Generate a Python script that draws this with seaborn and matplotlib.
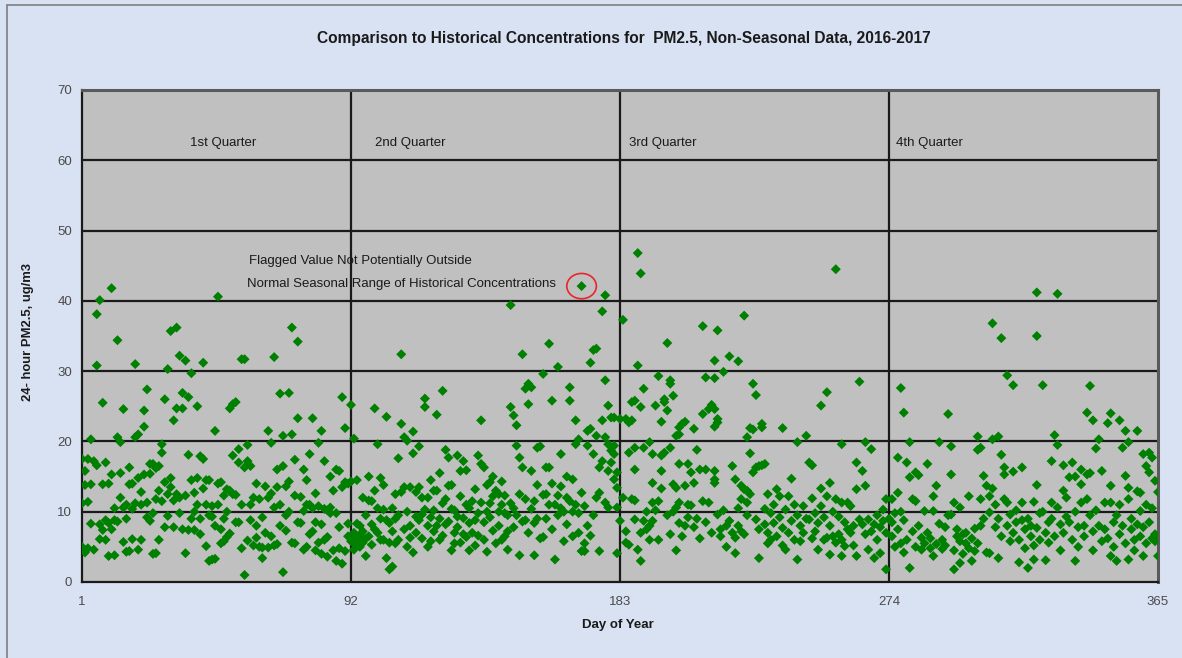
import matplotlib
matplotlib.use("Agg")
import matplotlib.pyplot as plt
from matplotlib.patches import Ellipse
from matplotlib.lines import Line2D
import seaborn as sns
import pandas as pd

# (day of year, 24-hour PM2.5), one list per quarter
q1 = [(1,17.5),(1,5.0),(1,11.2),(2,15.8),(2,4.2),(2,13.8),(3,17.5),(3,11.4),(3,4.8),(4,20.3),(4,13.9),(4,8.3),
      (5,17.2),(5,4.6),(6,38.1),(6,30.8),(6,16.6),(7,40.1),(7,8.2),(7,6.1),(8,25.5),(8,13.9),(8,7.4),(9,17.0),
      (9,6.0),(9,8.8),(10,14.0),(10,8.4),(10,3.7),(11,41.8),(11,7.5),(11,15.3),(12,8.8),(12,3.8),(12,10.5),
      (13,34.4),(13,20.6),(13,8.6),(14,19.9),(14,15.5),(14,12.0),(15,24.6),(15,5.7),(15,10.6),(16,11.0),(16,9.0),
      (16,4.3),(17,16.3),(17,4.4),(17,13.9),(18,14.0),(18,10.4),(18,6.1),(19,31.0),(19,20.6),(19,11.2),(20,21.0),
      (20,4.6),(20,14.8),(21,12.8),(21,6.0),(21,11.0),(22,22.1),(22,24.4),(22,15.3),(23,27.4),(23,11.3),(23,9.2),
      (24,15.4),(24,8.7),(24,16.8),(25,16.8),(25,9.8),(25,4.0),(26,11.8),(26,4.1),(26,16.2),(27,16.5),(27,6.0),
      (27,13.0),(28,19.6),(28,18.4),(28,11.5),(29,26.0),(29,14.2),(29,7.8),(30,30.3),(30,12.5),(30,9.4),(31,35.7),
      (31,14.8),(31,13.5),(32,23.0),(32,7.8),(32,11.6),(33,36.2),(33,24.7),(33,12.5),(34,32.2),(34,12.0),(34,9.8),
      (35,24.7),(35,26.9),(35,7.5),(36,31.5),(36,4.1),(36,12.3),(37,26.3),(37,18.1),(37,7.4),(38,29.7),(38,9.0),
      (38,14.5),(39,12.7),(39,7.4),(39,10.0),(40,25.0),(40,14.8),(40,11.0),(41,17.9),(41,6.8),(41,9.0),(42,31.2),
      (42,17.5),(42,13.3),(43,11.0),(43,5.1),(43,14.5),(44,14.5),(44,3.0),(44,9.5),(45,9.3),(45,3.2),(45,10.8),
      (46,21.5),(46,3.3),(46,8.0),(47,40.6),(47,11.0),(47,14.0),(48,7.5),(48,14.2),(48,5.5),(49,12.3),(49,5.8),
      (49,9.0),(50,6.4),(50,10.0),(50,13.2),(51,24.7),(51,13.0),(51,6.9),(52,25.3),(52,18.0),(52,12.5),(53,25.6),
      (53,12.4),(53,8.5),(54,18.9),(54,8.5),(54,17.0),(55,31.7),(55,4.8),(55,11.0),(56,31.7),(56,1.0),(56,16.3),
      (57,19.5),(57,17.2),(57,5.9),(58,16.5),(58,8.8),(58,11.0),(59,12.0),(59,5.2),(60,14.0),(60,6.3),(60,8.0),
      (61,11.8),(61,5.0),(62,9.2),(62,3.4),(62,4.9),(63,13.6),(63,7.0),(64,21.5),(64,4.9),(64,12.0),(65,19.8),
      (65,12.6),(65,6.5),(66,32.0),(66,10.6),(66,5.2),(67,16.0),(67,5.4),(67,13.5),(68,26.8),(68,11.0),(68,8.0),
      (69,1.4),(69,20.8),(69,16.5),(70,13.6),(70,7.3),(70,9.5),(71,26.9),(71,14.3),(71,10.0),(72,36.2),(72,21.0),
      (72,5.6),(73,17.4),(73,5.5),(73,12.3),(74,34.2),(74,23.3),(74,8.5),(75,12.1),(75,8.4),(76,16.0),(76,10.1),
      (76,4.6),(77,14.5),(77,5.0),(77,11.0),(78,18.2),(78,11.0),(78,6.8),(79,23.3),(79,7.2),(79,10.5),(80,12.6),
      (80,8.5),(80,4.5),(81,19.8),(81,5.6),(81,10.8),(82,21.5),(82,4.0),(82,8.2),(83,17.2),(83,10.4),(83,6.0),
      (84,10.2),(84,6.4),(84,3.6),(85,15.0),(85,9.8),(85,10.6),(86,13.0),(86,4.5),(87,16.0),(87,3.0),(87,9.8),
      (88,15.8),(88,7.8),(88,4.8),(89,26.3),(89,2.6),(89,13.5),(90,14.2),(90,4.4),(90,21.9),(91,14.0),(91,8.3),
      (91,6.5)]

q2 = [(92,25.2),(92,6.5),(92,14.3),(92,5.8),(93,20.4),(93,5.5),(93,7.0),(93,4.6),(94,6.0),(94,14.5),(94,8.3),
      (95,8.0),(95,5.0),(95,6.6),(96,12.0),(96,7.2),(96,5.6),(97,3.7),(97,9.5),(97,6.2),(98,6.5),(98,15.0),
      (98,11.6),(99,8.2),(99,11.5),(99,5.3),(100,24.7),(100,13.0),(100,7.5),(101,19.6),(101,7.0),(101,10.5),
      (102,14.8),(102,9.0),(102,6.0),(103,6.0),(103,10.3),(103,13.8),(104,23.5),(104,3.4),(104,8.8),(105,1.8),
      (105,8.4),(105,5.6),(106,2.2),(106,10.5),(106,7.2),(107,5.5),(107,12.5),(107,9.0),(108,17.6),(108,9.5),
      (108,6.0),(109,32.4),(109,22.5),(109,12.8),(110,20.6),(110,7.5),(110,13.5),(111,20.1),(111,5.0),(111,10.0),
      (112,13.5),(112,8.0),(112,6.3),(113,21.4),(113,18.3),(113,4.2),(114,12.8),(114,9.3),(114,7.0),(115,19.3),
      (115,13.5),(115,8.8),(116,9.6),(116,6.2),(116,12.0),(117,26.1),(117,24.9),(117,10.3),(118,12.0),(118,8.0),
      (118,5.0),(119,14.5),(119,5.8),(119,9.2),(120,10.2),(120,7.2),(120,13.0),(121,23.8),(121,13.0),(121,8.0),
      (122,15.5),(122,9.0),(122,6.0),(123,27.2),(123,6.6),(123,11.2),(124,18.8),(124,11.8),(124,8.2),(125,17.7),
      (125,8.6),(125,13.7),(126,13.8),(126,4.5),(126,10.4),(127,5.5),(127,10.2),(127,7.0),(128,18.0),(128,7.8),
      (128,9.3),(129,15.8),(129,12.2),(129,5.6),(130,17.2),(130,9.1),(130,6.8),(131,15.9),(131,6.4),(131,11.0),
      (132,8.4),(132,4.5),(132,10.5),(133,11.5),(133,7.0),(134,13.2),(134,5.2),(134,8.8),(135,18.0),(135,9.8),
      (135,6.6),(136,23.0),(136,16.8),(136,11.3),(137,16.3),(137,6.0),(137,8.5),(138,4.3),(138,13.8),(138,10.0),
      (139,9.2),(139,11.2),(139,14.2),(140,15.0),(140,7.3),(140,12.2),(141,13.0),(141,5.5),(142,10.0),(142,8.0),
      (142,12.5),(143,14.3),(143,11.0),(143,6.0),(144,12.3),(144,6.5),(144,9.8),(145,9.5),(145,4.6),(145,7.2),
      (146,39.4),(146,24.9),(146,11.2),(147,23.7),(147,10.5),(147,7.8),(148,22.3),(148,19.4),(148,9.5),(149,17.7),
      (149,12.5),(149,3.8),(150,32.4),(150,16.3),(150,8.6),(151,27.5),(151,8.8),(151,11.8),(152,28.2),(152,25.3),
      (152,7.0),(153,27.7),(153,15.8),(153,10.4),(154,3.8),(154,11.5),(154,8.4),(155,9.0),(155,13.8),(155,19.1),
      (156,19.3),(156,6.2),(157,29.6),(157,6.4),(157,12.4),(158,16.3),(158,12.5),(158,9.0),(159,33.9),(159,16.3),
      (159,11.0),(160,25.8),(160,7.5),(160,14.0),(161,3.2),(161,11.0),(162,30.6),(162,9.5),(162,12.3),(163,18.2),
      (163,13.6),(163,10.5),(164,10.0),(164,5.8),(165,12.0),(165,8.2),(165,15.0),(166,27.7),(166,25.8),(166,11.5),
      (167,14.6),(167,10.0),(167,6.5),(168,23.0),(168,19.6),(168,11.0),(169,20.3),(169,7.0),(169,9.8),(170,42.1),
      (170,12.7),(170,4.4),(171,5.5),(171,4.4),(171,10.8),(172,21.5),(172,19.4),(172,8.0),(173,31.2),(173,21.8),
      (173,6.6),(174,33.0),(174,18.2),(174,9.5),(175,33.2),(175,20.8),(175,12.0),(176,16.3),(176,12.7),(176,4.4),
      (177,38.5),(177,23.0),(177,17.2),(178,40.8),(178,28.7),(178,20.6),(178,11.3),(179,25.1),(179,19.6),(179,15.8),
      (179,10.6),(180,23.4),(180,18.7),(180,17.0),(181,23.4),(181,19.4),(181,18.2),(181,14.6),(182,15.6),(182,13.4),
      (182,10.6),(182,4.1)]

q3 = [(183,8.7),(183,23.2),(184,37.3),(184,12.0),(185,7.2),(185,5.6),(185,23.2),(186,5.3),(186,18.4),(186,22.7),
      (187,23.0),(187,11.8),(187,25.6),(188,25.8),(188,8.9),(188,19.1),(188,16.0),(188,11.6),(189,46.8),(189,30.8),
      (189,4.6),(190,43.9),(190,24.9),(190,7.0),(190,3.0),(191,27.5),(191,19.1),(191,8.7),(192,10.0),(192,7.5),
      (193,19.9),(193,8.0),(193,6.0),(194,18.2),(194,14.1),(194,11.3),(194,8.7),(195,25.1),(195,10.2),(196,29.3),
      (196,11.5),(196,6.0),(197,22.8),(197,18.0),(197,15.8),(197,13.3),(198,25.6),(198,26.0),(198,18.4),(199,34.0),
      (199,24.4),(199,9.5),(200,28.7),(200,28.2),(200,19.1),(200,6.8),(201,26.5),(201,13.9),(201,10.0),(202,20.8),
      (202,13.4),(202,10.6),(202,4.5),(203,22.0),(203,21.0),(203,16.8),(203,11.3),(203,8.4),(204,22.5),(204,6.5),
      (205,22.8),(205,13.7),(205,8.0),(206,16.8),(206,11.0),(206,9.2),(207,15.6),(207,10.9),(208,21.8),(208,14.1),
      (208,7.8),(209,18.8),(209,9.0),(210,16.0),(210,6.2),(211,36.4),(211,23.9),(211,11.5),(212,29.1),(212,16.0),
      (212,8.5),(213,24.6),(213,11.3),(214,25.2),(214,7.0),(215,31.5),(215,29.0),(215,24.6),(215,22.1),(215,15.8),
      (215,14.1),(215,14.6),(216,35.8),(216,22.7),(216,23.2),(216,9.6),(217,7.5),(217,6.5),(218,29.9),(218,10.2),
      (219,8.0),(219,5.0),(220,32.1),(220,8.7),(221,16.5),(221,7.0),(222,14.6),(222,6.3),(222,4.1),(223,31.4),
      (223,8.0),(223,10.5),(224,13.7),(224,11.8),(224,7.2),(225,37.9),(225,13.2),(225,6.8),(226,13.0),(226,11.3),
      (226,20.6),(226,9.5),(227,21.9),(227,18.3),(227,12.5),(228,28.2),(228,21.7),(228,15.6),(229,26.6),(229,16.3),
      (229,8.9),(230,16.5),(230,7.5),(230,3.4),(231,22.5),(231,22.0),(231,16.6),(232,16.8),(232,8.2),(232,10.4),
      (233,12.5),(233,7.0),(233,5.5),(234,6.0),(234,9.8),(235,8.4),(235,11.0),(236,13.2),(236,6.5),(237,12.2),
      (237,9.2),(238,21.9),(238,7.7),(238,5.2),(239,4.6),(239,10.3),(240,12.2),(240,7.0),(241,14.7),(241,8.7),
      (242,11.0),(242,6.0),(243,19.9),(243,3.2),(243,9.5),(244,8.0),(244,5.8),(245,7.0),(245,10.8),(246,20.8),
      (246,9.0),(247,17.0),(247,8.9),(248,16.6),(248,11.9),(248,6.2),(249,7.2),(249,9.8),(250,4.6),(250,8.4),
      (251,25.1),(251,13.3),(251,10.8),(252,6.0),(252,9.2),(253,27.0),(253,12.2),(253,6.3),(254,14.1),(254,3.9),
      (254,8.0),(255,6.5),(255,10.0),(256,44.5),(256,11.8),(256,5.6),(257,6.8),(257,9.3),(258,19.6),(258,11.3),
      (258,3.7),(258,6.0),(259,5.1),(259,8.5),(260,11.3),(260,7.5),(261,10.8),(261,7.0),(262,8.0),(262,5.2),
      (263,17.0),(263,13.2),(263,3.7),(264,28.5),(264,8.9),(265,15.8),(265,8.2),(266,19.9),(266,13.7),(266,6.8),
      (267,8.9),(267,4.6),(268,18.9),(268,7.2),(269,8.2),(269,3.4),(270,6.0),(270,9.5),(271,4.1),(271,7.8),
      (272,8.7),(272,10.3),(273,7.0),(273,1.8),(273,11.8),(274,9.0)]

q4 = [(275,11.8),(275,6.5),(275,8.5),(276,5.0),(276,9.8),(277,17.7),(277,12.7),(277,7.5),(278,27.6),(278,10.0),
      (278,5.5),(279,24.1),(279,4.2),(279,8.8),(280,17.0),(280,6.0),(281,19.9),(281,14.9),(281,2.0),(282,11.8),
      (282,7.2),(283,15.6),(283,11.5),(283,5.0),(284,15.2),(284,8.0),(285,6.3),(285,4.6),(286,10.1),(286,5.5),
      (287,16.8),(287,7.0),(288,4.8),(288,6.2),(289,12.2),(289,10.1),(289,3.7),(290,13.7),(290,5.4),(291,19.9),
      (291,8.3),(292,6.0),(292,4.7),(293,7.8),(293,5.2),(294,23.9),(294,9.5),(295,15.3),(295,19.3),(295,9.6),
      (296,11.3),(296,1.8),(296,4.5),(297,6.5),(297,7.5),(298,10.6),(298,2.7),(298,5.8),(299,6.8),(299,4.0),
      (300,7.0),(300,5.5),(301,12.2),(301,4.8),(302,3.0),(302,6.2),(303,7.6),(303,4.4),(304,20.7),(304,18.8),
      (304,5.5),(305,19.1),(305,11.8),(305,8.0),(306,15.1),(306,9.0),(307,13.7),(307,4.2),(308,12.2),(308,9.9),
      (308,4.1),(309,36.8),(309,20.3),(309,13.3),(310,11.0),(310,7.8),(311,20.7),(311,3.4),(311,9.0),(312,34.7),
      (312,18.1),(312,6.5),(313,16.3),(313,15.3),(313,11.8),(314,29.4),(314,11.3),(314,8.0),(315,9.6),(315,5.8),
      (316,28.0),(316,15.7),(316,7.0),(317,8.5),(317,10.2),(318,2.8),(318,6.0),(319,16.3),(319,11.3),(319,8.8),
      (320,7.5),(320,4.8),(321,2.0),(321,9.0),(322,6.5),(322,8.0),(323,11.4),(323,3.2),(323,5.2),(324,41.2),
      (324,35.0),(324,13.8),(324,7.7),(325,9.8),(325,6.0),(326,28.0),(326,10.0),(327,3.1),(327,7.0),(328,8.5),
      (328,5.6),(329,17.2),(329,11.3),(329,9.0),(330,20.9),(330,6.5),(331,41.0),(331,19.5),(331,10.6),(332,8.2),
      (332,4.5),(333,16.6),(333,13.0),(333,7.0),(334,12.0),(334,9.3),(335,14.9),(335,8.5),(336,17.0),(336,6.0),
      (337,15.0),(337,3.0),(337,10.0),(338,7.8),(338,5.0),(339,16.0),(339,13.9),(339,11.3),(340,8.0),(340,6.5),
      (341,24.1),(341,15.3),(341,11.8),(342,27.9),(342,15.5),(342,9.5),(343,23.0),(343,4.5),(343,7.2),(344,19.0),
      (344,10.2),(345,20.3),(345,8.0),(346,15.8),(346,5.8),(347,11.3),(347,7.5),(348,22.6),(348,6.2),(349,24.0),
      (349,13.7),(349,11.3),(349,3.7),(350,8.5),(350,5.0),(351,3.0),(351,9.5),(352,23.0),(352,11.0),(352,6.8),
      (353,19.1),(353,8.0),(354,21.5),(354,15.1),(354,5.5),(355,19.9),(355,13.4),(355,11.8),(355,3.2),(356,7.5),
      (356,9.0),(357,6.0),(357,4.5),(358,21.5),(358,12.9),(358,8.2),(359,12.7),(359,10.1),(359,6.5),(360,18.2),
      (360,3.7),(360,7.8),(361,16.5),(361,11.0),(361,5.5),(362,18.4),(362,15.6),(362,8.5),(363,17.7),(363,6.2),
      (363,10.5),(364,14.4),(364,6.8),(364,5.8),(365,12.8),(365,3.7),(365,6.0)]

quarter_starts = [1, 92, 183, 274, 365]
quarter_names = ["1st Quarter", "2nd Quarter", "3rd Quarter", "4th Quarter"]
quarter_label_days = [37.5, 100, 186, 276.5]
flagged = (170, 42.1)

df = pd.DataFrame(q1 + q2 + q3 + q4, columns=["Day", "PM25"])

sns.set_style("white")
plt.rcParams["font.family"] = ["Liberation Sans", "DejaVu Sans"]

fig = plt.figure(figsize=(11.82, 6.58), dpi=100, facecolor="#D9E2F3")
ax = fig.add_axes([82 / 1182, 1 - 582 / 658, (1158 - 82) / 1182, (582 - 90) / 658])
ax.set_facecolor("#C0C0C0")

# grid lines first so the points sit on top
for v in range(10, 70, 10):
    ax.axhline(v, color="#1a1a1a", lw=1.6, zorder=1)
for d in quarter_starts[1:-1]:
    ax.axvline(d, color="#1a1a1a", lw=1.6, zorder=1)

sns.scatterplot(data=df, x="Day", y="PM25", marker="D", color="#008000", s=26,
                edgecolor="none", ax=ax, zorder=3, legend=False)

ax.set_xlim(1, 365)
ax.set_ylim(0, 70)
ax.set_xticks(quarter_starts)
ax.set_yticks(range(0, 71, 10))
ax.tick_params(axis="both", labelsize=9.5, colors="#1a1a1a", labelcolor="#4a4a4a", length=4, width=1,
               direction="out")
ax.tick_params(axis="x", pad=6)
ax.tick_params(axis="y", pad=3)
ax.set_xlabel("")
ax.set_ylabel("")

for side in ["left", "bottom"]:
    ax.spines[side].set_color("#1a1a1a")
    ax.spines[side].set_linewidth(1.6)
for side in ["top", "right"]:
    ax.spines[side].set_color("#5a5a5a")
    ax.spines[side].set_linewidth(2.2)

for name, d in zip(quarter_names, quarter_label_days):
    ax.text(d, 62.4, name, fontsize=9.5, color="#1a1a1a", va="center", ha="left")

ax.text(57.5, 45.6, "Flagged Value Not Potentially Outside", fontsize=9.5, color="#1a1a1a", va="center")
ax.text(56.8, 42.4, "Normal Seasonal Range of Historical Concentrations", fontsize=9.5, color="#1a1a1a",
        va="center")
ax.add_patch(Ellipse(flagged, 10, 3.6, fill=False, edgecolor="#e8262a", lw=1.2, zorder=4))

fig.text(0.528, 0.942, "Comparison to Historical Concentrations for  PM2.5, Non-Seasonal Data, 2016-2017",
         ha="center", va="center", fontsize=11.2, fontweight="bold", color="#1a1a1a")
fig.text(618 / 1182, 1 - 625 / 658, "Day of Year", ha="center", va="center", fontsize=9.5,
         fontweight="bold", color="#1a1a1a")
fig.text(28 / 1182, 1 - 332 / 658, "24- hour PM2.5, ug/m3", ha="center", va="center", rotation=90,
         fontsize=9.4, fontweight="bold", color="#1a1a1a")

# thin frame along the top and left edge of the picture
fig.add_artist(Line2D([7 / 1182, 7 / 1182], [0, 1 - 5 / 658], transform=fig.transFigure, color="#7f7f7f", lw=1.2))
fig.add_artist(Line2D([7 / 1182, 1], [1 - 5 / 658, 1 - 5 / 658], transform=fig.transFigure, color="#7f7f7f", lw=1.2))

fig.savefig("out.png", dpi=100, facecolor=fig.get_facecolor())
